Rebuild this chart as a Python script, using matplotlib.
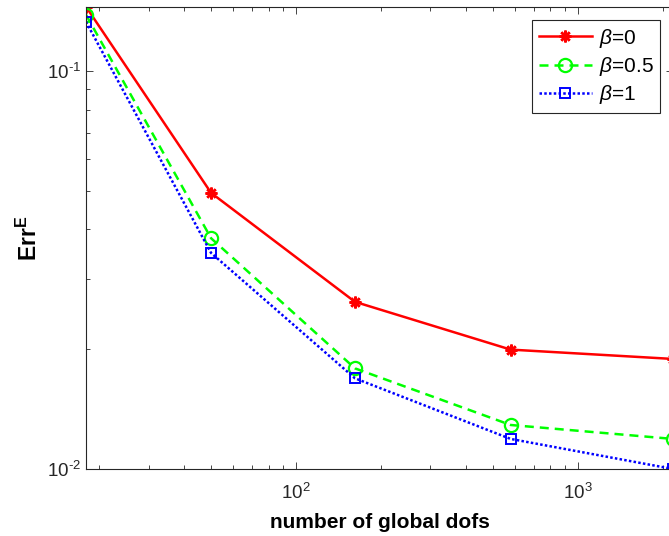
import numpy as np
import matplotlib
matplotlib.use('Agg')
import matplotlib.pyplot as plt
from matplotlib.ticker import FuncFormatter

plt.rcParams['font.family'] = ['Liberation Sans', 'DejaVu Sans']
plt.rcParams['mathtext.fontset'] = 'custom'
plt.rcParams['mathtext.rm'] = 'Liberation Sans'
plt.rcParams['mathtext.it'] = 'Liberation Sans:italic'
plt.rcParams['mathtext.bf'] = 'Liberation Sans:bold'
plt.rcParams['axes.unicode_minus'] = False

# number of global dofs and the error for each beta
dofs = [18, 50, 162, 578, 2178]
err_b0 = [0.145, 0.0494, 0.0263, 0.01995, 0.0189]
err_b05 = [0.1384, 0.0380, 0.0179, 0.0129, 0.0119]
err_b1 = [0.1329, 0.0349, 0.0169, 0.0119, 0.0100]
labels = [r'$\beta$=0', r'$\beta$=0.5', r'$\beta$=1']


def pow10(v, pos):
    # MATLAB style labels, hyphen instead of a minus sign
    e = int(round(np.log10(v)))
    return r'$\mathdefault{10^{\text{%d}}}$' % e


fig = plt.figure(figsize=(6.69, 5.36), dpi=100)
ax = fig.add_axes([86/669, 1 - 469/536, 587/669, 462.3/536])

dark = '0.15'
ax.loglog(dofs, err_b0, color='red', ls='-', lw=1.8, marker=(8, 2, 0),
          ms=8.5, mew=1.8, label=labels[0])
ax.loglog(dofs, err_b05, color=(0, 1, 0), ls=(0, (3.6, 2.4)), lw=1.8, marker='o',
          ms=9.5, mfc='none', mew=1.6, label=labels[1])
ax.loglog(dofs, err_b1, color='blue', ls=(0, (1, 0.9)), lw=1.8, marker='s',
          ms=7.5, mfc='none', mew=1.4, label=labels[2])

ax.set_xlim(dofs[0], dofs[-1])
ax.set_ylim(0.01, max(err_b0))
ax.xaxis.set_major_formatter(FuncFormatter(pow10))
ax.yaxis.set_major_formatter(FuncFormatter(pow10))

for s in ax.spines.values():
    s.set_color(dark)
    s.set_linewidth(0.8)
ax.tick_params(which='both', direction='in', top=True, right=True,
               colors=dark, labelsize=13.5, width=0.6)
ax.tick_params(which='major', length=5)
ax.tick_params(which='minor', length=3)
ax.tick_params(axis='x', pad=10)

ax.set_xlabel('number of global dofs', fontsize=15, fontweight='bold', labelpad=7)
ax.set_ylabel(r'$\mathbf{Err^{E}}$', fontsize=16.5, labelpad=4)

leg = ax.legend(loc='upper right', bbox_to_anchor=(660/669, 1 - 20/536),
                bbox_transform=fig.transFigure, borderaxespad=0,
                fontsize=15, fancybox=False, framealpha=1, edgecolor=dark,
                handlelength=2.55, numpoints=1, labelspacing=0.26,
                handletextpad=0.33, borderpad=0.32)
leg.get_frame().set_linewidth(0.8)

fig.savefig('out.png', dpi=100)
